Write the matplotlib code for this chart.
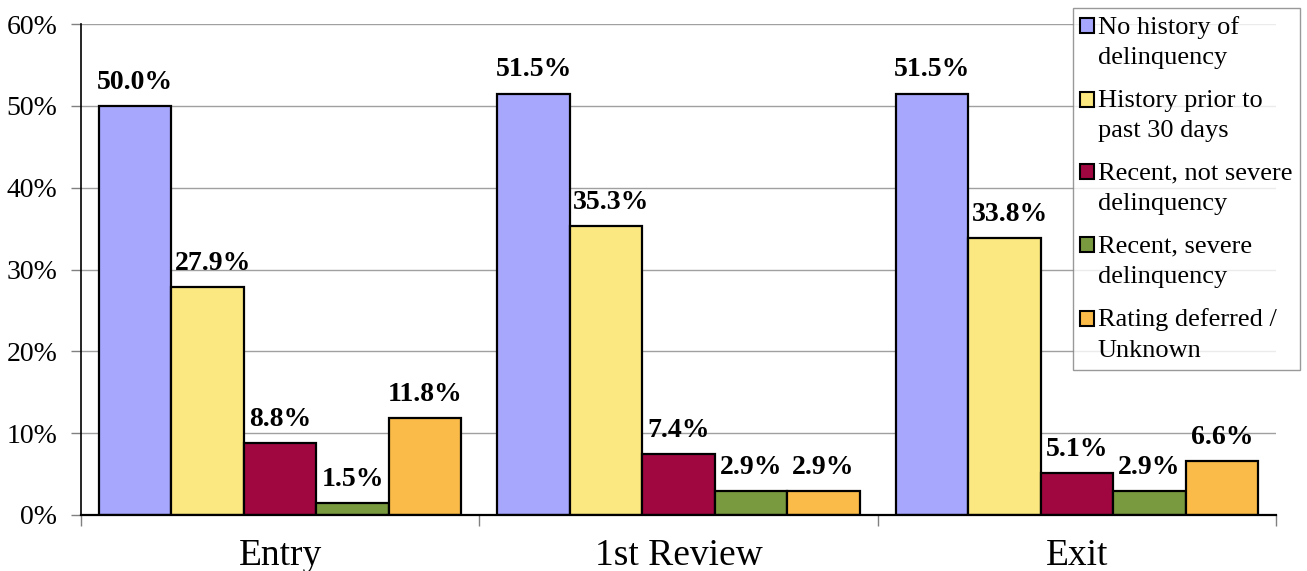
import matplotlib
matplotlib.use("Agg")
import matplotlib.pyplot as plt
import numpy as np
from matplotlib.container import BarContainer
from matplotlib.patches import Rectangle
from matplotlib.legend_handler import HandlerPatch
from matplotlib.ticker import FixedLocator, PercentFormatter

categories = ["Entry", "1st Review", "Exit"]
series_names = [
    "No history of\ndelinquency",
    "History prior to\npast 30 days",
    "Recent, not severe\ndelinquency",
    "Recent, severe\ndelinquency",
    "Rating deferred /\nUnknown",
]
no_history = [50.0, 51.5, 51.5]
history_prior = [27.9, 35.3, 33.8]
recent_not_severe = [8.8, 7.4, 5.1]
recent_severe = [1.5, 2.9, 2.9]
deferred_unknown = [11.8, 2.9, 6.6]
series_values = [no_history, history_prior, recent_not_severe, recent_severe, deferred_unknown]
colors = ["#A7A7FE", "#FBE880", "#A0063F", "#7A9A3F", "#FABB48"]
# horizontal nudge (points) of each series' value labels
label_nudge = [0, 4, 0, 0, 0]

plt.rcParams["font.family"] = ["Liberation Serif", "DejaVu Serif"]

fig = plt.figure(figsize=(13.07, 5.71), dpi=100)
ax = fig.add_axes([81 / 1307, 56 / 571, (1276 - 81) / 1307, (515 - 24) / 571])

x = np.arange(len(categories))
bar_w = 0.182
n = len(series_values)
for i, (vals, col, name) in enumerate(zip(series_values, colors, series_names)):
    pos = x + (i - (n - 1) / 2) * bar_w
    bars = ax.bar(pos, vals, width=bar_w, color=col, edgecolor="black",
                  linewidth=1.6, label=name, zorder=3)
    for b, v in zip(bars, vals):
        ax.annotate(f"{v:.1f}%", (b.get_x() + b.get_width() / 2, v),
                    xytext=(label_nudge[i], 8), textcoords="offset points",
                    ha="center", va="bottom", fontsize=20, fontweight="bold", zorder=4)

ax.set_xlim(-0.5, 2.5)
ax.set_ylim(0, 60)
ax.set_yticks(np.arange(0, 61, 10))
ax.yaxis.set_major_formatter(PercentFormatter(decimals=0))
ax.grid(axis="y", color="#A0A0A0", linewidth=1.0, zorder=0)

ax.set_xticks(x)
ax.set_xticklabels(categories, fontsize=27)
ax.xaxis.set_minor_locator(FixedLocator([-0.5, 0.5, 1.5, 2.5]))
ax.tick_params(axis="x", which="major", length=0, pad=17)
ax.tick_params(axis="x", which="minor", length=8, color="#808080", width=1)
ax.tick_params(axis="y", length=7, color="#808080", width=1, labelsize=20, pad=10)

for s in ["top", "right"]:
    ax.spines[s].set_visible(False)
ax.spines["left"].set_color("black")
ax.spines["left"].set_linewidth(1.2)
ax.spines["bottom"].set_color("black")
ax.spines["bottom"].set_linewidth(1.6)
ax.spines["bottom"].set_zorder(5)

LINE_SHIFT = 11.5  # points: raise swatch to the first text line


def top_swatch(legend, orig_handle, xdescent, ydescent, width, height, fontsize):
    return Rectangle((-xdescent, -ydescent + LINE_SHIFT), width, height)


def style_from_first_bar(tgt, src):
    first = next(iter(src.get_children()), None)
    if first is not None:
        tgt.update_from(first)


leg = fig.legend(loc="upper right", bbox_to_anchor=(1300 / 1307, 1 - 8 / 571),
                 fontsize=19, frameon=True, fancybox=False, edgecolor="#808080",
                 handlelength=0.5, handleheight=0.5, handletextpad=0.15,
                 labelspacing=0.77, borderpad=0.3, borderaxespad=0,
                 handler_map={BarContainer: HandlerPatch(patch_func=top_swatch,
                                                         update_func=style_from_first_bar)})
leg.get_frame().set_linewidth(1.0)
for t in leg.get_texts():
    t.set_linespacing(1.5)
for h in leg.legend_handles:
    h.set_linewidth(1.5)

fig.savefig("out.png", dpi=100)
